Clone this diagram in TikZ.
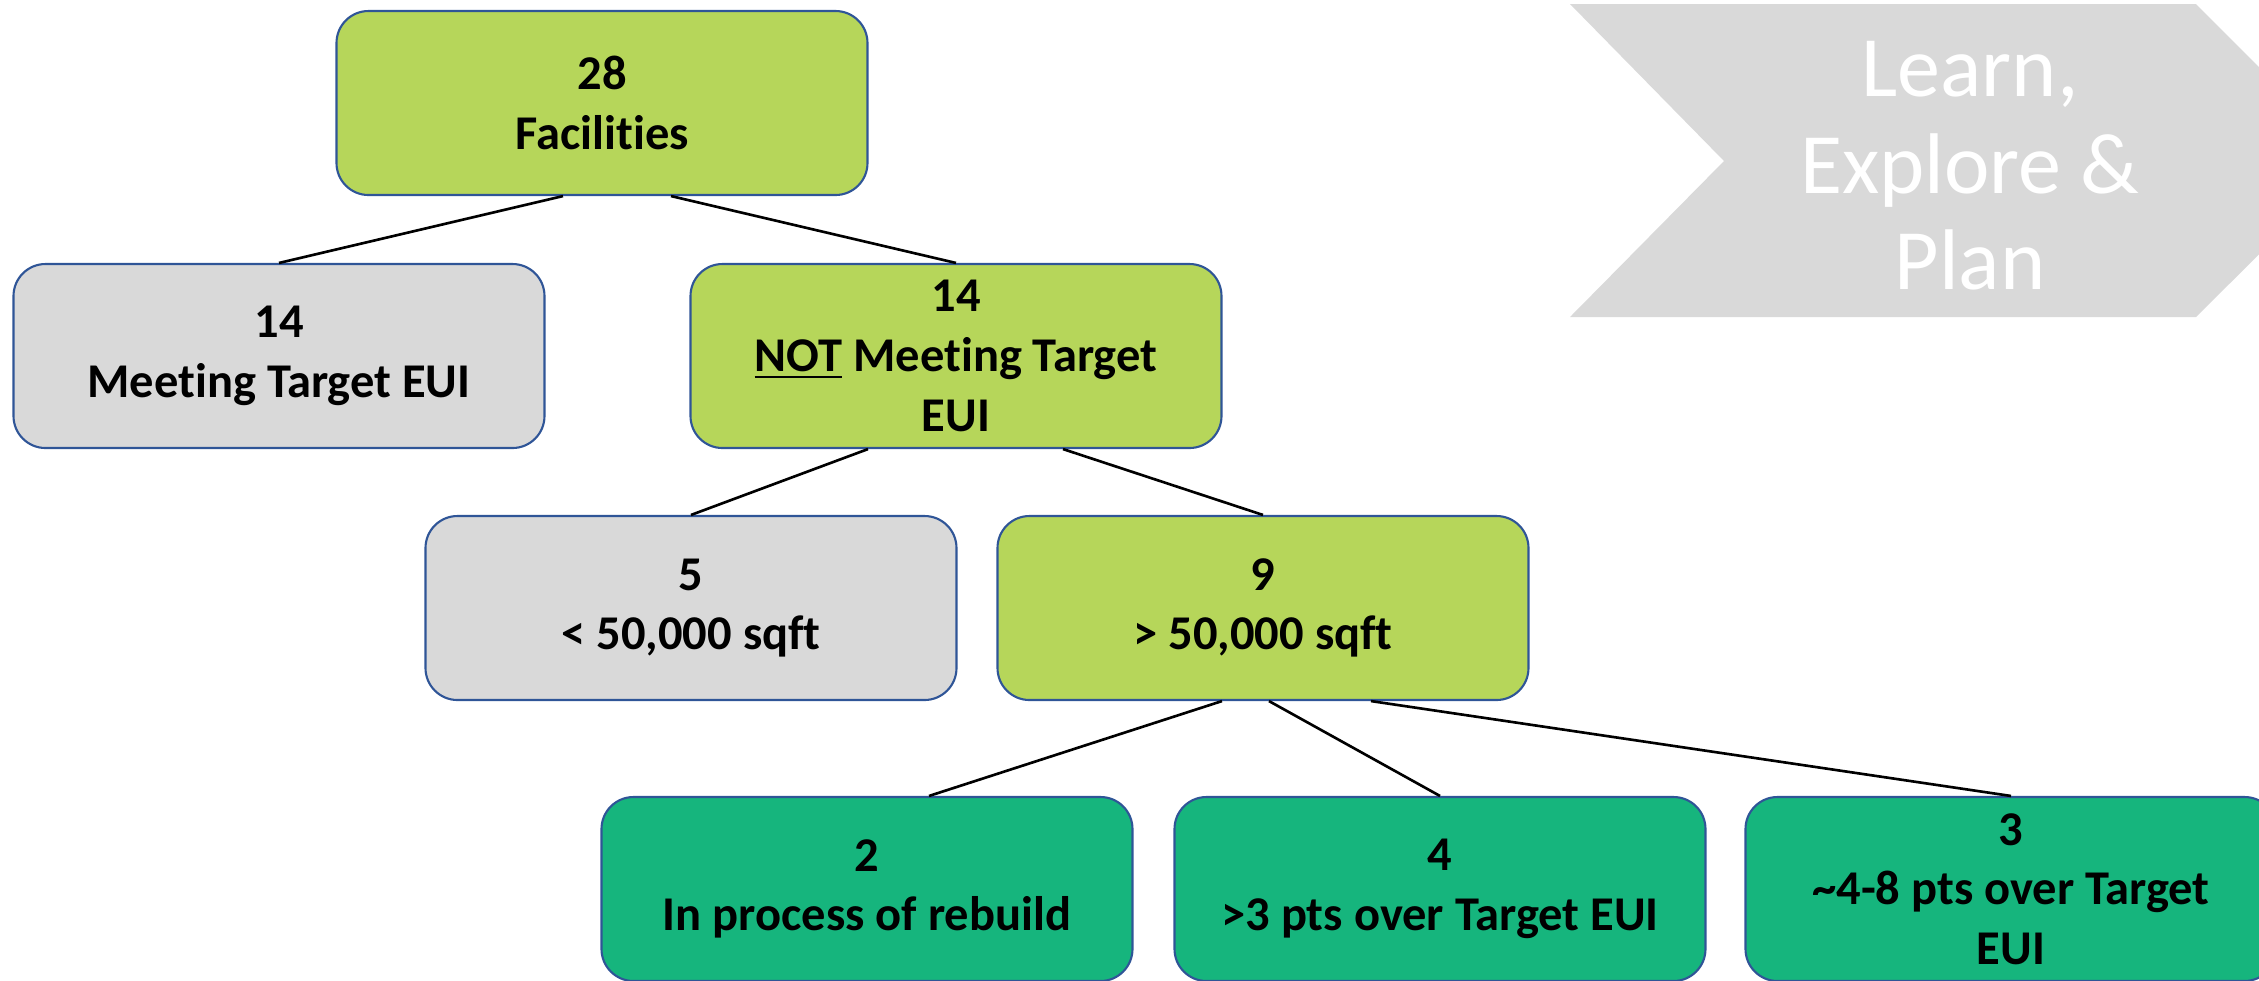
\documentclass[tikz,border=0pt]{standalone}
\usepackage{fontspec}
\setmainfont{Carlito}[Ligatures=NoCommon]
\definecolor{boxlime}{HTML}{B6D65A}
\definecolor{boxgrey}{HTML}{D9D9D9}
\definecolor{boxteal}{HTML}{16B57D}
\definecolor{boxblue}{HTML}{2F5597}
\begin{document}
\begin{tikzpicture}[
        box/.style={draw=boxblue, line width=0.6pt, rounded corners=0.32cm, minimum width=5.31cm, minimum height=1.84cm, inner sep=0pt, align=center, font=\fontsize{13.8}{17}\selectfont\bfseries},
        lime box/.style={box, fill=boxlime},
        grey box/.style={box, fill=boxgrey},
        teal box/.style={box, fill=boxteal},
        link/.style={line width=0.75pt},
    ]
    \useasboundingbox (0,0) rectangle (22.59,-9.80);
    \fill[boxgrey] (15.70,-0.04) -- (21.96,-0.04) -- (23.53,-1.61) -- (21.96,-3.17) -- (15.70,-3.17) -- (17.24,-1.61) -- cycle;
    \node[text=white, align=center, font=\fontsize{24.5}{27.5}\selectfont] (i) at (19.70,-1.66) {Learn,\\Explore \&\\Plan};
    \node[lime box] (a) at (6.02,-1.03) {28\\Facilities};
    \node[grey box] (b) at (2.79,-3.56) {14\\Meeting Target EUI};
    \node[lime box] (c) at (9.56,-3.56) {14\\\underline{NOT} Meeting Target\\EUI};
    \node[grey box] (d) at (6.91,-6.08) {5\\< 50,000 sqft};
    \node[lime box] (e) at (12.63,-6.08) {9\\> 50,000 sqft};
    \node[teal box] (f) at (8.67,-8.89) {2\\In process of rebuild};
    \node[teal box] (g) at (14.40,-8.89) {4\\>3 pts over Target EUI};
    \node[teal box] (h) at (20.11,-8.89) {3\\\textasciitilde4-8 pts over Target\\EUI};
    \draw[link] ([xshift=-0.39cm]a.south) -- (b.north);
    \draw[link] ([xshift=0.69cm]a.south) -- (c.north);
    \draw[link] ([xshift=-0.88cm]c.south) -- (d.north);
    \draw[link] ([xshift=1.07cm]c.south) -- (e.north);
    \draw[link] ([xshift=-0.41cm]e.south) -- ([xshift=0.62cm]f.north);
    \draw[link] ([xshift=0.06cm]e.south) -- (g.north);
    \draw[link] ([xshift=1.08cm]e.south) -- (h.north);
\end{tikzpicture}
\end{document}
